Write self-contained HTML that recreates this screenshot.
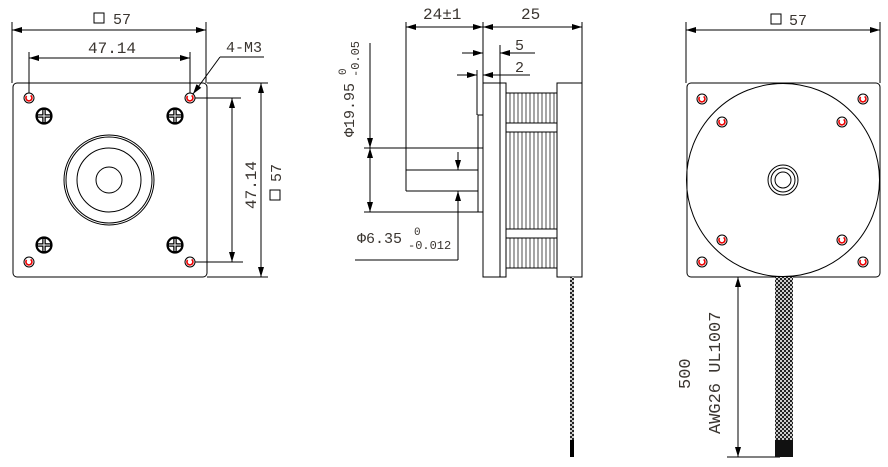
<!DOCTYPE html>
<html><head><style>
html,body{margin:0;padding:0;background:#fff;width:888px;height:467px;overflow:hidden}
text{font-family:"Liberation Mono","Noto Sans CJK SC",monospace;fill:#3a3530}
</style></head><body>
<svg width="888" height="467" viewBox="0 0 888 467" xmlns="http://www.w3.org/2000/svg">
<defs>
<marker id="a" viewBox="0 0 10 6" refX="10" refY="3" markerWidth="10" markerHeight="6" orient="auto-start-reverse" markerUnits="userSpaceOnUse"><path d="M0,0 L10,3 L0,6 Z" fill="#000"/></marker>
<g id="hole"><circle r="5" fill="#fff" stroke="#000" stroke-width="1"/><path d="M-2.4,-2 A3,3 0 1 0 1.6,-2.6" fill="none" stroke="#e00" stroke-width="1.6"/></g>
<g id="screw"><circle r="7.5" fill="#fff" stroke="#000" stroke-width="2.2"/><path d="M-7,0 H7 M0,-7 V7" stroke="#000" stroke-width="3.5"/><path d="M-6,0 H6 M0,-6 V6" stroke="#fff" stroke-width="1"/></g>
<pattern id="mesh" width="4" height="4" patternUnits="userSpaceOnUse"><rect width="4" height="4" fill="#222"/><rect width="2" height="2" fill="#ccc"/><rect x="2" y="2" width="2" height="2" fill="#ccc"/></pattern>
</defs>
<g fill="none" stroke="#000" stroke-width="1">
<rect x="13" y="83" width="194" height="194" rx="4"/>
<line x1="207" y1="83" x2="268" y2="83"/>
<line x1="207" y1="277" x2="268" y2="277"/>
<line x1="12" y1="22" x2="12" y2="83"/>
<line x1="206" y1="22" x2="206" y2="83"/>
<line x1="12" y1="30" x2="206" y2="30" marker-start="url(#a)" marker-end="url(#a)"/>
<line x1="29" y1="52" x2="29" y2="98"/>
<line x1="190" y1="52" x2="190" y2="98"/>
<line x1="29" y1="58" x2="190" y2="58" marker-start="url(#a)" marker-end="url(#a)"/>
<line x1="220" y1="57" x2="264" y2="57"/>
<line x1="220" y1="57" x2="193" y2="94" marker-end="url(#a)"/>
<line x1="193" y1="98" x2="241" y2="98"/>
<line x1="193" y1="262" x2="243" y2="262"/>
<line x1="232" y1="98" x2="232" y2="262" marker-start="url(#a)" marker-end="url(#a)"/>
<line x1="261" y1="83" x2="261" y2="277" marker-start="url(#a)" marker-end="url(#a)"/>
<circle cx="109" cy="180" r="45"/>
<circle cx="109" cy="180" r="43"/>
<circle cx="109" cy="180" r="32"/>
<circle cx="109" cy="180" r="13"/>
<rect x="483" y="83" width="23" height="194"/>
<line x1="500" y1="83" x2="500" y2="277"/>
<rect x="506" y="93" width="51" height="175"/>
<rect x="557" y="83" width="25" height="194"/>
<line x1="506" y1="123" x2="557" y2="123"/><line x1="506" y1="132" x2="557" y2="132"/>
<line x1="506" y1="229" x2="557" y2="229"/><line x1="506" y1="238" x2="557" y2="238"/>
<path d="M510,93V123M514,93V123M518,93V123M522,93V123M526,93V123M530,93V123M534,93V123M538,93V123M542,93V123M546,93V123M550,93V123M554,93V123
M510,132V229M514,132V229M518,132V229M522,132V229M526,132V229M530,132V229M534,132V229M538,132V229M542,132V229M546,132V229M550,132V229M554,132V229
M510,238V268M514,238V268M518,238V268M522,238V268M526,238V268M530,238V268M534,238V268M538,238V268M542,238V268M546,238V268M550,238V268M554,238V268" stroke-width="0.7"/>
<rect x="478" y="115" width="5" height="97"/>
<line x1="406" y1="170" x2="478" y2="170"/>
<line x1="406" y1="191" x2="478" y2="191"/>
<line x1="406" y1="22" x2="406" y2="191"/>
<line x1="483" y1="22" x2="483" y2="83"/>
<line x1="582" y1="22" x2="582" y2="83"/>
<line x1="406" y1="27" x2="483" y2="27" marker-start="url(#a)" marker-end="url(#a)"/>
<line x1="483" y1="27" x2="582" y2="27" marker-start="url(#a)" marker-end="url(#a)"/>
<line x1="500" y1="45" x2="500" y2="83"/>
<line x1="462" y1="53" x2="483" y2="53" marker-end="url(#a)"/>
<line x1="535" y1="53" x2="500" y2="53" marker-end="url(#a)"/>
<line x1="477" y1="70" x2="477" y2="115"/>
<line x1="457" y1="75" x2="477" y2="75" marker-end="url(#a)"/>
<line x1="530" y1="75" x2="483" y2="75" marker-end="url(#a)"/>
<line x1="364" y1="148" x2="483" y2="148"/>
<line x1="364" y1="212" x2="483" y2="212"/>
<line x1="370" y1="43" x2="370" y2="148" marker-end="url(#a)"/>
<line x1="370" y1="148" x2="370" y2="212" marker-start="url(#a)" marker-end="url(#a)"/>
<line x1="458" y1="152" x2="458" y2="170" marker-end="url(#a)"/>
<line x1="458" y1="260" x2="458" y2="191" marker-end="url(#a)"/>
<line x1="355" y1="260" x2="458" y2="260"/>
<rect x="687" y="83" width="193" height="194" rx="4"/>
<circle cx="783" cy="180" r="96.5"/>
<circle cx="783" cy="180" r="15"/>
<circle cx="783" cy="180" r="12"/>
<circle cx="783" cy="180" r="8"/>
<line x1="686" y1="22" x2="686" y2="83"/>
<line x1="880" y1="22" x2="880" y2="83"/>
<line x1="686" y1="30" x2="880" y2="30" marker-start="url(#a)" marker-end="url(#a)"/>
<line x1="738" y1="277" x2="738" y2="457" marker-start="url(#a)" marker-end="url(#a)"/>
<line x1="727" y1="457" x2="780" y2="457"/>
</g>
<use href="#hole" x="29" y="98"/><use href="#hole" x="190" y="98"/><use href="#hole" x="29" y="262"/><use href="#hole" x="190" y="262"/>
<use href="#screw" x="44" y="116"/><use href="#screw" x="175" y="116"/><use href="#screw" x="44" y="245"/><use href="#screw" x="175" y="245"/>
<use href="#hole" x="702" y="99"/><use href="#hole" x="863" y="99"/><use href="#hole" x="722" y="122"/><use href="#hole" x="842" y="122"/>
<use href="#hole" x="722" y="240"/><use href="#hole" x="842" y="240"/><use href="#hole" x="702" y="262"/><use href="#hole" x="863" y="262"/>
<rect x="570" y="277" width="4" height="163" fill="url(#mesh)"/>
<rect x="570" y="440" width="4" height="17" fill="#000"/>
<rect x="775" y="277" width="18" height="163" fill="url(#mesh)"/>
<rect x="775" y="440" width="18" height="17" fill="#111"/>
<g font-size="15">
<rect x="94" y="13" width="10" height="10" fill="none" stroke="#000"/><text x="113" y="24">57</text>
<text x="88" y="53" font-size="16">47.14</text>
<text x="226" y="52">4-M3</text>
<text transform="translate(256,209) rotate(-90)" font-size="16">47.14</text>
<g transform="translate(281,182) rotate(-90)"><text x="0" y="0">57</text><rect x="-18" y="-11" width="10" height="10" fill="none" stroke="#000"/></g>
<text x="423" y="19" font-size="16">24±1</text>
<text x="521" y="19" font-size="16">25</text>
<text x="515" y="50">5</text>
<text x="515" y="72">2</text>
<text transform="translate(354,137) rotate(-90)">Φ19.95</text>
<text transform="translate(346,75) rotate(-90)" font-size="11">0</text>
<text transform="translate(359,77) rotate(-90)" font-size="12">-0.05</text>
<text x="357" y="243">Φ6.35</text>
<text x="414" y="235" font-size="11">0</text>
<text x="408" y="249" font-size="12">-0.012</text>
<rect x="771" y="14" width="10" height="10" fill="none" stroke="#000"/><text x="789" y="25">57</text>
<text transform="translate(690,389) rotate(-90)" font-size="17">500</text>
<text transform="translate(720,434) rotate(-90)" font-size="17">AWG26 UL1007</text>
</g>
</svg>
</body></html>
